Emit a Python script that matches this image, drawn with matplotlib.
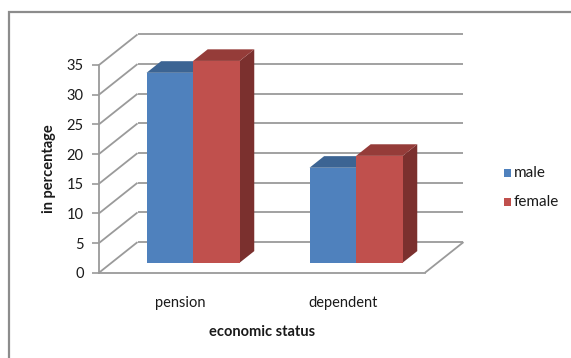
import matplotlib
matplotlib.use("Agg")
import matplotlib.pyplot as plt
from matplotlib.patches import Polygon, Rectangle

categories = ["pension", "dependent"]
series_names = ["male", "female"]
male = [32, 16]
female = [34, 18]
values = [male, female]
y_ticks = [0, 5, 10, 15, 20, 25, 30, 35]

front_colors = ["#4F81BD", "#C0504D"]
top_colors = ["#3C6493", "#953C39"]
side_colors = ["#2F4F78", "#7B302E"]

W, H, DPI = 571, 358, 100
fig = plt.figure(figsize=(W / DPI, H / DPI), dpi=DPI)
fig.patch.set_facecolor("white")

font = "Lato"
grid_c = "#9A9A9A"

# chart frame (runs off the right and bottom of the canvas)
fig.add_artist(Rectangle((9 / W, -0.1), 1.2, 1 - 12 / H + 0.1,
                         transform=fig.transFigure, fill=False,
                         edgecolor="#8C8C8C", linewidth=1.6))

# front plane of the plot box
left_px, right_px, bot_px, top_px = 99, 425, 272.7, 65
ax = fig.add_axes([left_px / W, 1 - bot_px / H,
                   (right_px - left_px) / W, (bot_px - top_px) / H])
ax.set_xlim(0, len(categories))
ax.set_ylim(0, 35)
ax.patch.set_visible(False)

# oblique depth offset (data units)
DX = 38.5 / ((right_px - left_px) / len(categories))
DY = 30.6 / ((bot_px - top_px) / 35)
ncat = len(categories)

kw = dict(color=grid_c, linewidth=1.3, clip_on=False, zorder=1,
          solid_capstyle="butt")
for v in y_ticks:
    ax.plot([DX, ncat + DX], [v + DY, v + DY], **kw)   # back wall
    ax.plot([0, DX], [v, v + DY], **kw)                # side wall
ax.plot([ncat, ncat + DX], [0, DY], **kw)              # floor edge

for s in ["top", "right"]:
    ax.spines[s].set_visible(False)
for s in ["left", "bottom"]:
    ax.spines[s].set_color(grid_c)
    ax.spines[s].set_linewidth(1.3)

# bars
group_w = 1 / 1.75
bar_w = group_w / len(series_names)
f1, f2 = 0.327, 0.706
for i in range(ncat):
    for j in range(len(series_names)):
        v = values[j][i]
        x0 = i + 0.5 - group_w / 2 + j * bar_w
        x1 = x0 + bar_w
        a = (f1 * DX, f1 * DY)
        b = (f2 * DX, f2 * DY)
        front = [(x0 + a[0], a[1]), (x1 + a[0], a[1]),
                 (x1 + a[0], v + a[1]), (x0 + a[0], v + a[1])]
        top = [(x0 + a[0], v + a[1]), (x1 + a[0], v + a[1]),
               (x1 + b[0], v + b[1]), (x0 + b[0], v + b[1])]
        side = [(x1 + a[0], a[1]), (x1 + b[0], b[1]),
                (x1 + b[0], v + b[1]), (x1 + a[0], v + a[1])]
        z = 3 + i * 3 + j
        for pts, c in ((side, side_colors[j]), (top, top_colors[j]),
                       (front, front_colors[j])):
            ax.add_patch(Polygon(pts, closed=True, facecolor=c,
                                 edgecolor="none", clip_on=False, zorder=z))

ax.set_yticks(y_ticks)
ax.set_yticklabels([str(t) for t in y_ticks], fontfamily=font,
                   fontsize=10.5, color="#1A1A1A")
ax.tick_params(axis="y", length=5, width=1.2, color=grid_c, pad=6)
ax.set_xticks([i + 0.5 for i in range(ncat)])
ax.set_xticklabels(categories, fontfamily=font, fontsize=10.5,
                   color="#1A1A1A")
ax.tick_params(axis="x", length=0, pad=17)

fig.text(49 / W, 1 - 169 / H, "in percentage", rotation=90,
         ha="center", va="center", fontfamily=font, fontweight="bold",
         fontsize=10.5, color="#1A1A1A")
fig.text(262.5 / W, 1 - 331.5 / H, "economic status", ha="center",
         va="center", fontfamily=font, fontweight="bold", fontsize=10.5,
         color="#1A1A1A")

# legend
for k, (name, c) in enumerate(zip(series_names, front_colors)):
    yc = 172.8 + k * 29
    fig.add_artist(Rectangle((503.5 / W, 1 - (yc + 3.8) / H), 7 / W, 7.6 / H,
                             transform=fig.transFigure, facecolor=c,
                             edgecolor="none"))
    fig.text(514 / W, 1 - yc / H, name, ha="left", va="center",
             fontfamily=font, fontsize=11, color="#1A1A1A")

fig.savefig("out.png", dpi=DPI)
